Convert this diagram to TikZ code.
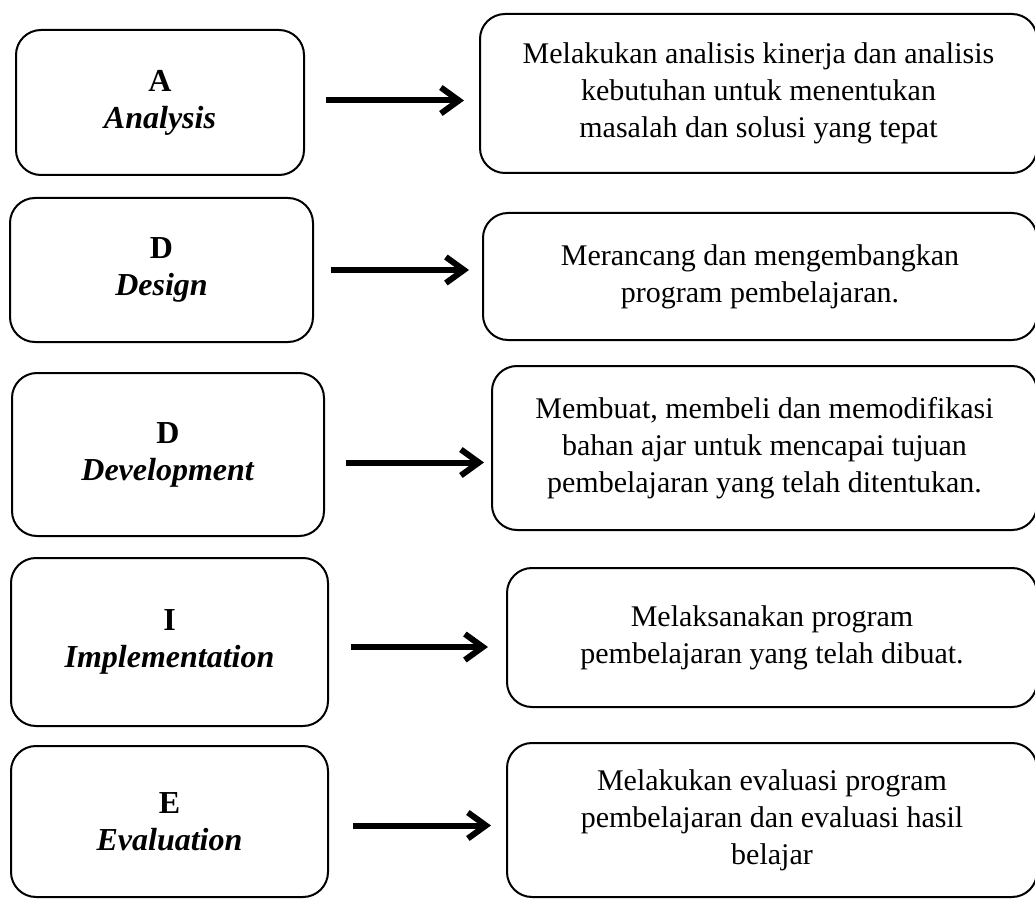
\documentclass[tikz,border=0pt]{standalone}
\usepackage{fontspec}
\setmainfont{Liberation Serif}
\usetikzlibrary{arrows.meta}
\begin{document}
\begin{tikzpicture}[x=0.5pt,y=-0.5pt,
  stage/.style={draw,line width=1pt,rounded corners=12.5pt,align=center,
    inner sep=0pt,font=\fontsize{16}{18.5}\selectfont\bfseries},
  desc/.style={draw,line width=1pt,rounded corners=12.5pt,align=center,
    inner sep=0pt,font=\fontsize{15}{18.5}\selectfont},
  arr/.style={line width=3pt,-{Straight Barb[length=9pt,width=13pt]}}]
  \useasboundingbox (0,0) rectangle (1035,899);
  % left column: ADDIE stages
  \node[stage,minimum width=144pt,minimum height=72.5pt] (a1) at (160,102.5) {A\\\textit{Analysis}};
  \node[stage,minimum width=151.5pt,minimum height=72pt] (a2) at (161.5,270) {D\\\textit{Design}};
  \node[stage,minimum width=156pt,minimum height=81.5pt] (a3) at (168,454.5) {D\\\textit{Development}};
  \node[stage,minimum width=158.5pt,minimum height=84pt] (a4) at (169.5,642) {I\\\textit{Implementation}};
  \node[stage,minimum width=158.5pt,minimum height=75.5pt] (a5) at (169.5,821.5) {E\\\textit{Evaluation}};
  % right column: descriptions
  \node[desc,minimum width=278.5pt,minimum height=79.5pt] (b1) at (758.5,93.5)
    {Melakukan analisis kinerja dan analisis\\kebutuhan untuk menentukan\\masalah dan solusi yang tepat};
  \node[desc,minimum width=277pt,minimum height=63.5pt] (b2) at (760,276.5)
    {Merancang dan mengembangkan\\program pembelajaran.};
  \node[desc,minimum width=272.5pt,minimum height=82pt] (b3) at (764.5,448)
    {Membuat, membeli dan memodifikasi\\bahan ajar untuk mencapai tujuan\\pembelajaran yang telah ditentukan.};
  \node[desc,minimum width=265pt,minimum height=69.5pt] (b4) at (772,637.5)
    {Melaksanakan program\\pembelajaran yang telah dibuat.};
  \node[desc,minimum width=265pt,minimum height=77pt] (b5) at (772,820)
    {Melakukan evaluasi program\\pembelajaran dan evaluasi hasil\\belajar};
  % arrows
  \draw[arr,shorten <=10.5pt,shorten >=7.5pt] ([yshift=1pt]a1.east) -- ([yshift=1pt]a1.east -| b1.west);
  \draw[arr,shorten <=8.5pt,shorten >=6.5pt] (a2.east) -- (a2.east -| b2.west);
  \draw[arr,shorten <=10.5pt,shorten >=3.5pt] ([yshift=-4pt]a3.east) -- ([yshift=-4pt]a3.east -| b3.west);
  \draw[arr,shorten <=11pt,shorten >=9pt] ([yshift=-2.5pt]a4.east) -- ([yshift=-2.5pt]a4.east -| b4.west);
  \draw[arr,shorten <=12pt,shorten >=7.5pt] ([yshift=-2pt]a5.east) -- ([yshift=-2pt]a5.east -| b5.west);
\end{tikzpicture}
\end{document}
